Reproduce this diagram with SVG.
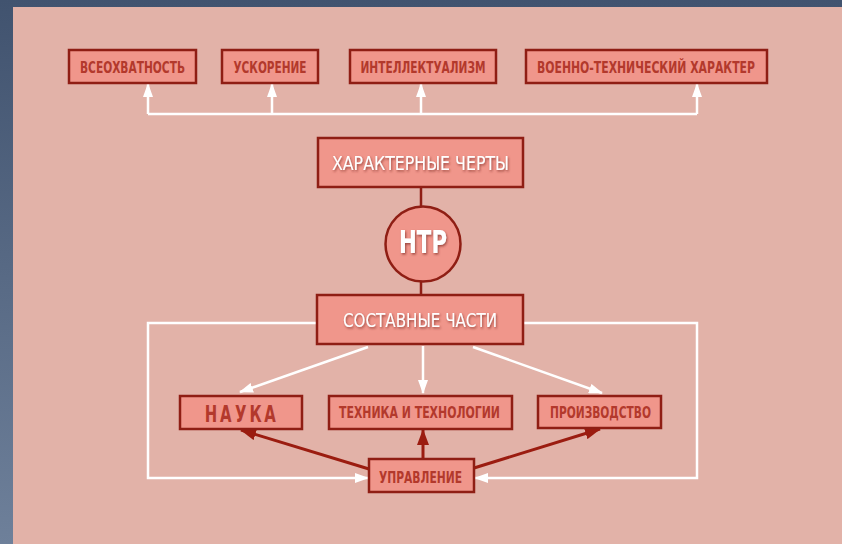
<svg xmlns="http://www.w3.org/2000/svg" width="842" height="544" viewBox="0 0 842 544">
<defs>
<linearGradient id="bg" x1="0" y1="0" x2="0" y2="1">
<stop offset="0" stop-color="#41536f"/>
<stop offset="1" stop-color="#6e809a"/>
</linearGradient>
<marker id="wa" viewBox="0 0 14 10" refX="13" refY="5" markerWidth="14" markerHeight="10" markerUnits="userSpaceOnUse" orient="auto">
<path d="M0,0 L14,5 L0,10 Z" fill="#ffffff"/>
</marker>
<marker id="ra" viewBox="0 0 16 12" refX="15" refY="6" markerWidth="16" markerHeight="12" markerUnits="userSpaceOnUse" orient="auto">
<path d="M0,0 L16,6 L0,12 Z" fill="#9b1c10"/>
</marker>
<filter id="sh" x="-10%" y="-10%" width="130%" height="140%">
<feDropShadow dx="1" dy="1.5" stdDeviation="0.8" flood-color="#7a2a20" flood-opacity="0.7"/>
</filter>
</defs>
<style>
.box{fill:#f0968b;stroke:#8f1e14;stroke-width:2.5}
.t{font-family:"DejaVu Sans Condensed","Liberation Sans Narrow","Liberation Sans",sans-serif;font-weight:bold;fill:#b3392c;text-anchor:middle}
.w{font-family:"DejaVu Sans Condensed","Liberation Sans Narrow","Liberation Sans",sans-serif;fill:#ffffff;text-anchor:middle;filter:url(#sh)}
.wl{stroke:#ffffff;stroke-width:2.5;fill:none}
.rl{stroke:#9b1c10;stroke-width:3;fill:none}
</style>
<rect x="0" y="0" width="842" height="544" fill="url(#bg)"/>
<rect x="13" y="7" width="829" height="537" fill="#e2b2a8"/>

<g id="connectors">
<path class="wl" d="M148,114 H697"/>
<path class="wl" d="M148,114 V84" marker-end="url(#wa)"/>
<path class="wl" d="M272,114 V84" marker-end="url(#wa)"/>
<path class="wl" d="M421,114 V84" marker-end="url(#wa)"/>
<path class="wl" d="M697,114 V84" marker-end="url(#wa)"/>
<path d="M421,187 V206 M421,282 V295" stroke="#8f1e14" stroke-width="2.5"/>
<path class="wl" d="M317,323 H148 V478 H368" marker-end="url(#wa)"/>
<path class="wl" d="M523,323 H697 V478 H475" marker-end="url(#wa)"/>
<path class="wl" d="M368,347 L240,392" marker-end="url(#wa)"/>
<path class="wl" d="M423,346 V393" marker-end="url(#wa)"/>
<path class="wl" d="M473,347 L602,393" marker-end="url(#wa)"/>
<path class="rl" d="M369,469 L241,430" marker-end="url(#ra)"/>
<path class="rl" d="M423,459 V430" marker-end="url(#ra)"/>
<path class="rl" d="M474,468 L600,429" marker-end="url(#ra)"/>
</g>

<g id="vseokhvatnost"><rect class="box" x="69" y="50" width="127" height="33"/><text class="t" x="132.5" y="73" font-size="16" textLength="105" lengthAdjust="spacingAndGlyphs">ВСЕОХВАТНОСТЬ</text></g>
<g id="uskorenie"><rect class="box" x="222" y="50" width="96" height="33"/><text class="t" x="270" y="73" font-size="16" textLength="73" lengthAdjust="spacingAndGlyphs">УСКОРЕНИЕ</text></g>
<g id="intellektualizm"><rect class="box" x="350" y="50" width="146" height="33"/><text class="t" x="423" y="73" font-size="16" textLength="125" lengthAdjust="spacingAndGlyphs">ИНТЕЛЛЕКТУАЛИЗМ</text></g>
<g id="voenno"><rect class="box" x="526" y="50" width="241" height="33"/><text class="t" x="646" y="73" font-size="16" textLength="218" lengthAdjust="spacingAndGlyphs">ВОЕННО-ТЕХНИЧЕСКИЙ ХАРАКТЕР</text></g>

<g id="cherty"><rect class="box" x="318" y="138" width="205" height="49"/><text class="w" x="420.5" y="170" font-size="19" textLength="177" lengthAdjust="spacingAndGlyphs">ХАРАКТЕРНЫЕ ЧЕРТЫ</text></g>
<g id="ntr"><circle class="box" cx="423" cy="244" r="37.5"/><text class="w" x="423" y="253" font-size="32" font-weight="bold" textLength="48" lengthAdjust="spacingAndGlyphs">НТР</text></g>
<g id="chasti"><rect class="box" x="317" y="295" width="206" height="49"/><text class="w" x="420" y="327" font-size="19" textLength="154" lengthAdjust="spacingAndGlyphs">СОСТАВНЫЕ ЧАСТИ</text></g>

<g id="nauka"><rect class="box" x="180" y="396" width="122" height="33"/><text class="t" transform="scale(0.72,1)" x="293 313.5 334.5 355 375" y="422" font-size="23">НАУКА</text></g>
<g id="tekhnika"><rect class="box" x="329" y="396" width="183" height="33"/><text class="t" x="419.5" y="418" font-size="16" textLength="161" lengthAdjust="spacingAndGlyphs">ТЕХНИКА И ТЕХНОЛОГИИ</text></g>
<g id="proizvodstvo"><rect class="box" x="538" y="396" width="123" height="32"/><text class="t" x="600.5" y="418" font-size="16" textLength="101" lengthAdjust="spacingAndGlyphs">ПРОИЗВОДСТВО</text></g>
<g id="upravlenie"><rect class="box" x="369" y="459" width="105" height="33"/><text class="t" x="420.5" y="483" font-size="16" textLength="83" lengthAdjust="spacingAndGlyphs">УПРАВЛЕНИЕ</text></g>
</svg>
